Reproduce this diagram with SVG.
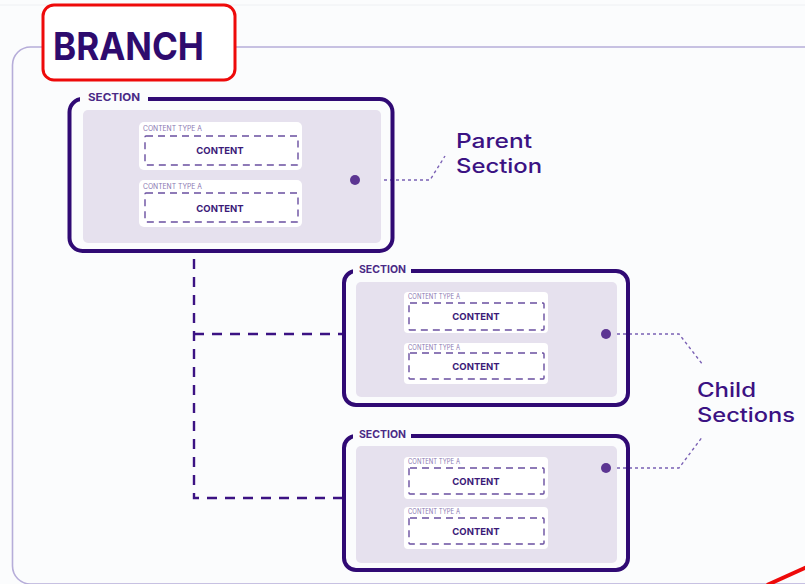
<svg xmlns="http://www.w3.org/2000/svg" width="805" height="584" viewBox="0 0 805 584">
<style>
  .frame{fill:none;stroke:#b6add9;stroke-width:1.6}
  .sec{fill:none;stroke:#300a74;stroke-width:4}
  .panel{fill:#e6e1ee}
  .lblbg{fill:#fbfcfd}
  .lbl{font-family:Inter,"Liberation Sans",sans-serif;font-weight:700;font-size:10.5px;fill:#4a2a86}
  .card{fill:#ffffff}
  .cta{font-family:Inter,"Liberation Sans",sans-serif;font-size:7px;fill:#8a78b2}
  .dash{fill:none;stroke:#6a4fa0;stroke-width:1.4;stroke-dasharray:7 5}
  .ct{font-family:Inter,"Liberation Sans",sans-serif;font-weight:700;font-size:9.5px;fill:#3b1a78;text-anchor:middle}
  .dot{fill:#5c3592}
  .dotted{fill:none;stroke:#7a60b4;stroke-width:1.4;stroke-dasharray:3 3}
  .conn{fill:none;stroke:#3b1283;stroke-width:2.4;stroke-dasharray:10 8}
  .note{font-family:Inter,"Liberation Sans",sans-serif;font-weight:500;font-size:20px;fill:#3b1283}
</style>
<rect x="0" y="0" width="805" height="584" fill="#fbfcfd"/>
<line x1="0" y1="5" x2="805" y2="5" stroke="#eef0f3" stroke-width="1"/>

<g id="branch-frame">
  <rect class="frame" x="12.5" y="47" width="810" height="537" rx="18"/>
</g>

<g id="branch-title">
  <rect x="43" y="5" width="192" height="75" rx="11" fill="#ffffff" stroke="#ee0a0a" stroke-width="3"/>
  <text x="53" y="60" font-family="Inter,'Liberation Sans',sans-serif" font-weight="700" font-size="38" fill="#2e0b6e" textLength="151" lengthAdjust="spacingAndGlyphs">BRANCH</text>
</g>

<g id="connectors">
  <path class="conn" d="M194 259 V498 H342"/>
  <path class="conn" d="M194 334 H342"/>
  <path class="dotted" d="M360 180 H430 L445 156"/>
  <path class="dotted" d="M611 334 H679 L703 365"/>
  <path class="dotted" d="M611 468 H679 L703 436"/>
</g>

<g id="parent-section">
  <rect class="sec" x="69.5" y="99" width="323" height="152" rx="13"/>
  <rect class="lblbg" x="80" y="90" width="68" height="14"/>
  <text class="lbl" x="88" y="101" textLength="52" lengthAdjust="spacingAndGlyphs">SECTION</text>
  <rect class="panel" x="83" y="110" width="298" height="133" rx="5"/>
  <rect class="card" x="139" y="122" width="163" height="48" rx="5"/>
  <text class="cta" x="143" y="131" textLength="59" lengthAdjust="spacingAndGlyphs">CONTENT TYPE A</text>
  <rect class="dash" x="145" y="136" width="153" height="29" rx="1"/>
  <text class="ct" x="220" y="154">CONTENT</text>
  <rect class="card" x="139" y="180" width="163" height="47" rx="5"/>
  <text class="cta" x="143" y="189" textLength="59" lengthAdjust="spacingAndGlyphs">CONTENT TYPE A</text>
  <rect class="dash" x="145" y="193" width="153" height="29" rx="1"/>
  <text class="ct" x="220" y="212">CONTENT</text>
  <circle class="dot" cx="355" cy="180" r="5"/>
</g>

<g id="child-section-1">
  <rect class="sec" x="344" y="271" width="284" height="134" rx="12"/>
  <rect class="lblbg" x="353" y="263" width="58" height="13"/>
  <text class="lbl" x="359" y="273" textLength="47" lengthAdjust="spacingAndGlyphs">SECTION</text>
  <rect class="panel" x="356" y="282" width="261" height="115" rx="5"/>
  <rect class="card" x="404" y="292" width="144" height="41" rx="4"/>
  <text class="cta" x="408" y="299" font-size="6.5" textLength="52" lengthAdjust="spacingAndGlyphs">CONTENT TYPE A</text>
  <rect class="dash" x="409" y="303" width="135" height="27" rx="1"/>
  <text class="ct" x="476" y="320">CONTENT</text>
  <rect class="card" x="404" y="343" width="144" height="41" rx="4"/>
  <text class="cta" x="408" y="350" font-size="6.5" textLength="52" lengthAdjust="spacingAndGlyphs">CONTENT TYPE A</text>
  <rect class="dash" x="409" y="353" width="135" height="26" rx="1"/>
  <text class="ct" x="476" y="370">CONTENT</text>
  <circle class="dot" cx="606" cy="334" r="5"/>
</g>

<g id="child-section-2">
  <rect class="sec" x="344" y="436" width="284" height="134" rx="12"/>
  <rect class="lblbg" x="353" y="428" width="58" height="13"/>
  <text class="lbl" x="359" y="438" textLength="47" lengthAdjust="spacingAndGlyphs">SECTION</text>
  <rect class="panel" x="356" y="446" width="261" height="117" rx="5"/>
  <rect class="card" x="404" y="457" width="144" height="42" rx="4"/>
  <text class="cta" x="408" y="464" font-size="6.5" textLength="52" lengthAdjust="spacingAndGlyphs">CONTENT TYPE A</text>
  <rect class="dash" x="409" y="468" width="135" height="26" rx="1"/>
  <text class="ct" x="476" y="485">CONTENT</text>
  <rect class="card" x="404" y="507" width="144" height="42" rx="4"/>
  <text class="cta" x="408" y="514" font-size="6.5" textLength="52" lengthAdjust="spacingAndGlyphs">CONTENT TYPE A</text>
  <rect class="dash" x="409" y="518" width="135" height="26" rx="1"/>
  <text class="ct" x="476" y="535">CONTENT</text>
  <circle class="dot" cx="606" cy="468" r="5"/>
</g>

<g id="parent-label">
  <text class="note" x="456" y="148" textLength="76" lengthAdjust="spacingAndGlyphs">Parent</text>
  <text class="note" x="456" y="173" textLength="86" lengthAdjust="spacingAndGlyphs">Section</text>
</g>

<g id="child-label">
  <text class="note" x="697" y="397" textLength="59" lengthAdjust="spacingAndGlyphs">Child</text>
  <text class="note" x="697" y="422" textLength="98" lengthAdjust="spacingAndGlyphs">Sections</text>
</g>

<line x1="767" y1="585" x2="807" y2="567" stroke="#ee0a0a" stroke-width="4"/>
</svg>
